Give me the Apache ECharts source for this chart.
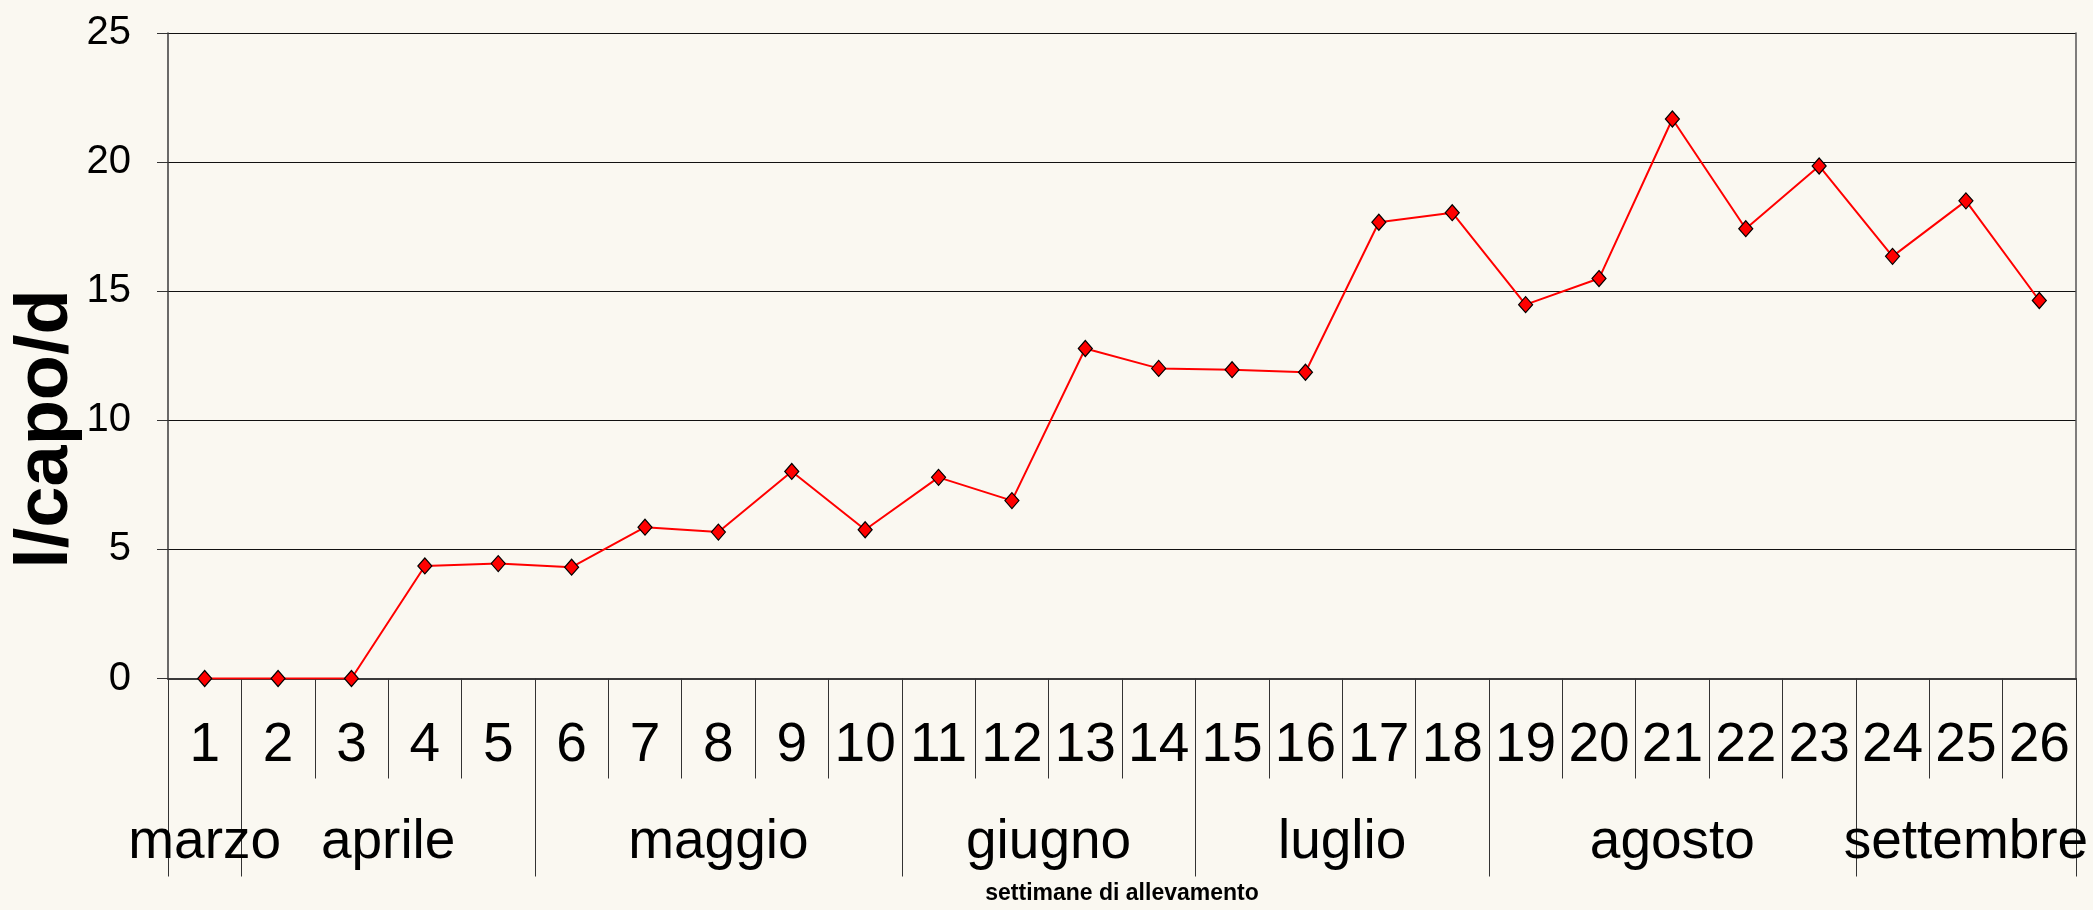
<!DOCTYPE html>
<html>
<head>
<meta charset="utf-8">
<script src="https://cdn.jsdelivr.net/npm/echarts@6/dist/echarts.min.js"></script>
<style>
html,body{margin:0;padding:0;background:#faf8f1;}
#chart{width:2093px;height:910px;}
</style>
</head>
<body>
<div id="chart"></div>
<script>
// ---- data ----
const weeks = ['1','2','3','4','5','6','7','8','9','10','11','12','13','14','15','16','17','18','19','20','21','22','23','24','25','26'];
const values = [0, 0, 0, 4.36, 4.45, 4.31, 5.86, 5.67, 8.02, 5.76, 7.79, 6.89, 12.78, 12.01, 11.96, 11.86, 17.67, 18.04, 14.48, 15.49, 21.67, 17.42, 19.85, 16.35, 18.5, 14.64];
const monthNames = ['marzo', 'aprile', 'maggio', 'giugno', 'luglio', 'agosto', 'settembre'];
const monthWeekCounts = [1, 4, 5, 4, 4, 5, 3];
const yMin = 0, yMax = 25, yStep = 5;
const yTitle = 'l/capo/d';
const xTitle = 'settimane di allevamento';

// month boundaries and centres (in week units) derived from the counts
const monthBounds = [0];
monthWeekCounts.forEach(c => monthBounds.push(monthBounds[monthBounds.length - 1] + c));
const monthCenters = monthNames.map((n, i) => (monthBounds[i] + monthBounds[i + 1]) / 2);

const FONT = '"Liberation Sans", Arial, sans-serif';
const chart = echarts.init(document.getElementById('chart'));
chart.setOption({
  backgroundColor: '#faf8f1',
  animation: false,
  grid: { left: 168, right: 17, top: 33, bottom: 227, containLabel: false },
  xAxis: [
    {
      type: 'category',
      data: weeks,
      boundaryGap: true,
      axisLine: { show: true, lineStyle: { color: '#3a3a3a', width: 2 } },
      axisTick: { show: true, length: 100, interval: 0, lineStyle: { color: '#333', width: 1 } },
      axisLabel: { interval: 0, margin: 40, fontSize: 55, lineHeight: 55, color: '#000', fontFamily: FONT },
      splitLine: { show: false },
      name: xTitle,
      nameLocation: 'middle',
      nameGap: 215,
      nameTextStyle: { fontSize: 23, fontWeight: 'bold', color: '#000', fontFamily: FONT, verticalAlign: 'middle' }
    },
    {
      type: 'value',
      min: 0,
      max: weeks.length,
      position: 'bottom',
      axisLine: { show: false },
      axisTick: { show: true, customValues: monthBounds, length: 198, lineStyle: { color: '#333', width: 1 } },
      axisLabel: {
        customValues: monthCenters,
        margin: 137,
        fontSize: 55,
        lineHeight: 55,
        color: '#000',
        fontFamily: FONT,
        formatter: function (v) {
          const i = monthCenters.findIndex(c => Math.abs(c - v) < 1e-6);
          return i >= 0 ? monthNames[i] : '';
        }
      },
      splitLine: { show: false },
      minorTick: { show: false }
    }
  ],
  yAxis: [
    {
      type: 'value',
      min: yMin,
      max: yMax,
      interval: yStep,
      axisLine: { show: true, lineStyle: { color: '#3a3a3a', width: 1.5 } },
      axisTick: { show: true, length: 11, lineStyle: { color: '#333', width: 1 } },
      axisLabel: { margin: 37, fontSize: 40, color: '#000', fontFamily: FONT },
      splitLine: { show: true, lineStyle: { color: '#111', width: 1 } }
    },
    {
      type: 'value',
      min: yMin,
      max: yMax,
      position: 'right',
      axisLine: { show: true, lineStyle: { color: '#555', width: 1.5 } },
      axisTick: { show: false },
      axisLabel: { show: false },
      splitLine: { show: false }
    }
  ],
  graphic: [
    {
      type: 'text',
      x: 47,
      y: 429,
      rotation: Math.PI / 2,
      style: {
        text: yTitle,
        fontSize: 74,
        fontWeight: 'bold',
        fontFamily: FONT,
        fill: '#000',
        align: 'center',
        verticalAlign: 'middle'
      }
    }
  ],
  series: [
    {
      type: 'line',
      xAxisIndex: 0,
      yAxisIndex: 0,
      data: values,
      symbol: 'diamond',
      symbolSize: [14, 16],
      showAllSymbol: true,
      lineStyle: { color: '#ff0000', width: 2 },
      itemStyle: { color: '#ff0000', borderColor: '#000', borderWidth: 1.2 },
      z: 5
    }
  ]
});
</script>
</body>
</html>
